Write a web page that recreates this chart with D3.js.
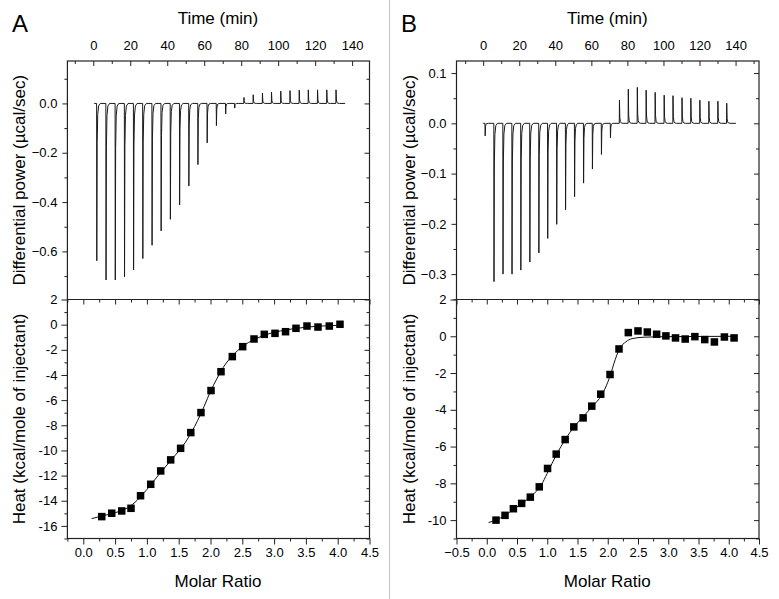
<!DOCTYPE html>
<html><head><meta charset="utf-8">
<script src="https://cdn.jsdelivr.net/npm/d3@7/dist/d3.min.js"></script>
<style>
body{margin:0;background:#fff;}
svg{display:block;font-family:"Liberation Sans",Arial,sans-serif;}
</style></head>
<body><svg id="c" width="779" height="599"></svg>
<script>
// ---------- DATA ----------
// Panel A thermogram: injection times (min) and peak differential power (µcal/sec)
const timesA = [1.8,6.8,11.8,16.8,21.7,26.7,31.7,36.6,41.6,46.6,51.6,56.5,61.5,66.5,71.5,76.4,81.4,86.4,91.4,96.3,101.3,106.3,111.3,116.2,121.2,126.2,131.2];
const peaksA = [-0.638,-0.716,-0.716,-0.703,-0.675,-0.629,-0.575,-0.517,-0.470,-0.412,-0.335,-0.248,-0.160,-0.090,-0.043,-0.019,0.024,0.035,0.042,0.046,0.050,0.052,0.054,0.055,0.055,0.055,0.055];
const runA = [0.5, 136.2];
// Panel A binding isotherm
const ratioA = [0.29,0.447,0.604,0.75,0.90,1.06,1.217,1.374,1.53,1.69,1.85,2.008,2.165,2.343,2.506,2.684,2.846,3.014,3.18,3.344,3.517,3.69,3.868,4.036];
const heatA = [-15.26,-14.99,-14.81,-14.6,-13.6,-12.69,-11.63,-10.75,-9.83,-8.58,-6.99,-5.24,-3.74,-2.54,-1.75,-1.14,-0.77,-0.69,-0.56,-0.29,-0.11,-0.19,-0.11,0.03];
const fitXA = [0.13,0.3,0.5,0.7,0.85,1.0,1.2,1.4,1.6,1.8,1.9,2.0,2.1,2.2,2.35,2.5,2.7,2.9,3.1,3.3,3.5,3.7,4.04];
const fitYA = [-15.42,-15.2,-14.95,-14.55,-13.95,-13.1,-11.85,-10.65,-9.4,-7.6,-6.5,-5.3,-4.3,-3.4,-2.45,-1.75,-1.15,-0.75,-0.5,-0.33,-0.2,-0.12,-0.05];

// Panel B thermogram
const timesB = [1.0,5.9,10.9,15.9,20.8,25.8,30.8,35.7,40.7,45.6,50.6,55.6,60.5,65.5,70.5,75.5,80.4,85.4,90.3,95.3,100.3,105.2,110.2,115.1,120.1,125.1,130.1,135.0];
const peaksB = [-0.025,-0.315,-0.300,-0.300,-0.292,-0.276,-0.258,-0.229,-0.201,-0.172,-0.146,-0.119,-0.091,-0.062,-0.029,0.046,0.068,0.0716,0.066,0.0616,0.056,0.055,0.051,0.050,0.046,0.044,0.044,0.040];
const runB = [0, 140.2];
// Panel B binding isotherm
const ratioB = [0.153,0.302,0.44,0.577,0.72,0.868,1.005,1.148,1.296,1.439,1.593,1.736,1.884,2.038,2.186,2.34,2.5,2.654,2.808,2.961,3.12,3.28,3.44,3.603,3.763,3.928,4.088];
const heatB = [-10.0,-9.74,-9.38,-9.09,-8.75,-8.19,-7.19,-6.41,-5.62,-4.93,-4.44,-3.80,-3.15,-2.08,-0.69,0.2,0.29,0.23,0.11,0.02,-0.09,-0.15,-0.02,-0.18,-0.31,-0.04,-0.09];
const fitXB = [0.03,0.15,0.3,0.45,0.6,0.75,0.9,1.0,1.15,1.3,1.45,1.6,1.75,1.9,2.0,2.05,2.1,2.2,2.3,2.4,2.6,3.0,4.1];
const fitYB = [-10.13,-10.0,-9.75,-9.4,-9.05,-8.65,-8.1,-7.45,-6.45,-5.6,-4.9,-4.35,-3.8,-3.2,-2.5,-2.05,-1.5,-0.65,-0.3,-0.13,-0.05,-0.02,0];

// Tick labels
const timeTicks = [0,20,40,60,80,100,120,140];
const timeMinor = [-10,10,30,50,70,90,110,130,150];
const powerTicksA = [-0.6,-0.4,-0.2,0.0];
const powerMinorA = [-0.7,-0.5,-0.3,-0.1,0.1];
const powerTicksB = [-0.3,-0.2,-0.1,0.0,0.1];
const powerMinorB = [-0.35,-0.25,-0.15,-0.05,0.05];
const heatTicksA = [-16,-14,-12,-10,-8,-6,-4,-2,0,2];
const heatMinorA = [-17,-15,-13,-11,-9,-7,-5,-3,-1,1];
const heatTicksB = [-10,-8,-6,-4,-2,0,2];
const heatMinorB = [-11,-9,-7,-5,-3,-1,1];
const ratioTicksA = [0,0.5,1,1.5,2,2.5,3,3.5,4,4.5];
const ratioMinorA = [-0.25,0.25,0.75,1.25,1.75,2.25,2.75,3.25,3.75,4.25];
const ratioTicksB = [-0.5,0,0.5,1,1.5,2,2.5,3,3.5,4,4.5];
const ratioMinorB = [-0.25,0.25,0.75,1.25,1.75,2.25,2.75,3.25,3.75,4.25];

// spike rendering shape (time offset, fraction of peak)
const spikeDt = [0,0.1,0.3,0.6,1.1,2.0];
const spikeFr = [0,1,0.25,0.07,0.015,0];

// ---------- DRAW ----------
const svg = d3.select("#c");
const yTop = 61, yMid = 299.5, yBot = 538.5;

const panels = [
  {label:"A", x0:67.4, x1:369.5, tDom:[-14,149.4], pDom:[-0.795,0.172], hDom:[-17,2], rDom:[-0.25,4.5],
   times:timesA, peaks:peaksA, run:runA, ratio:ratioA, heat:heatA, fitX:fitXA, fitY:fitYA,
   pT:powerTicksA, pM:powerMinorA, hT:heatTicksA, hM:heatMinorA, rT:ratioTicksA, rM:ratioMinorA, lx:12, tx:19},
  {label:"B", x0:456.5, x1:759, tDom:[-14.8,153], pDom:[-0.3505,0.124], hDom:[-11,2], rDom:[-0.5,4.5],
   times:timesB, peaks:peaksB, run:runB, ratio:ratioB, heat:heatB, fitX:fitXB, fitY:fitYB,
   pT:powerTicksB, pM:powerMinorB, hT:heatTicksB, hM:heatMinorB, rT:ratioTicksB, rM:ratioMinorB, lx:401, tx:409}
];

// separator
svg.append("line").attr("x1",389.5).attr("x2",389.5).attr("y1",0).attr("y2",599)
  .attr("stroke","#c8c8c8").attr("stroke-width",1.2);

const fmt1 = d3.format(".1f");
function styleAxis(g){
  g.select(".domain").remove();
  g.selectAll("line").attr("stroke","#222").attr("stroke-width",1);
  g.selectAll("text").attr("font-size",13).attr("fill","#000").attr("font-family","Liberation Sans, Arial, sans-serif");
}
function ax(gen, tx, ty, vals, fmt, size, pad){
  const a = gen.tickValues(vals).tickSize(size).tickPadding(pad);
  a.tickFormat(fmt || "");
  const g = svg.append("g").attr("transform",`translate(${tx},${ty})`).call(a);
  styleAxis(g);
  return g;
}

panels.forEach(p => {
  const t = d3.scaleLinear().domain(p.tDom).range([p.x0,p.x1]);
  const pw = d3.scaleLinear().domain(p.pDom).range([yMid,yTop]);
  const h = d3.scaleLinear().domain(p.hDom).range([yBot,yMid]);
  const r = d3.scaleLinear().domain(p.rDom).range([p.x0,p.x1]);

  // ---- top plot (thermogram) ----
  const pts = [[p.run[0],0]];
  p.times.forEach((ti,i)=>{
    spikeDt.forEach((dt,k)=>pts.push([ti+dt, p.peaks[i]*spikeFr[k]]));
  });
  pts.push([p.run[1],0]);
  svg.append("path").datum(pts)
    .attr("d", d3.line().x(d=>t(d[0])).y(d=>pw(d[1])))
    .attr("fill","none").attr("stroke","#1a1a1a").attr("stroke-width",1).attr("stroke-linejoin","round");

  // top axis (time) inward ticks
  ax(d3.axisTop(t), 0, yTop, timeTicks, d=>d, -5, 11);
  ax(d3.axisTop(t), 0, yTop, timeMinor.filter(v=>v>=p.tDom[0]&&v<=p.tDom[1]), null, -3, 0);
  // left power axis
  ax(d3.axisLeft(pw), p.x0, 0, p.pT, fmt1, 5, 5);
  ax(d3.axisLeft(pw), p.x0, 0, p.pM, null, 3, 0);
  // right mirror
  ax(d3.axisRight(pw), p.x1, 0, p.pT, null, -5, 0);
  ax(d3.axisRight(pw), p.x1, 0, p.pM, null, -3, 0);

  // ---- bottom plot (isotherm) ----
  const fit = p.fitX.map((x,i)=>[x,p.fitY[i]]);
  svg.append("path").datum(fit)
    .attr("d", d3.line().x(d=>r(d[0])).y(d=>h(d[1])).curve(d3.curveMonotoneX))
    .attr("fill","none").attr("stroke","#111").attr("stroke-width",1);
  const s = 7.5;
  svg.append("g").selectAll("rect").data(p.ratio).join("rect")
    .attr("x",(d)=>r(d)-s/2).attr("y",(d,i)=>h(p.heat[i])-s/2)
    .attr("width",s).attr("height",s).attr("fill","#000");

  // bottom axis (molar ratio) outward
  ax(d3.axisBottom(r), 0, yBot, p.rT, fmt1, 6, 3);
  ax(d3.axisBottom(r), 0, yBot, p.rM, null, 3, 0);
  // top mirror of isotherm (inward)
  ax(d3.axisBottom(r), 0, yMid, p.rT, null, 5, 0);
  ax(d3.axisBottom(r), 0, yMid, p.rM, null, 3, 0);
  // left heat axis
  ax(d3.axisLeft(h), p.x0, 0, p.hT, d=>d, 6, 4);
  ax(d3.axisLeft(h), p.x0, 0, p.hM, null, 3, 0);
  // right mirror
  ax(d3.axisRight(h), p.x1, 0, p.hT, null, -5, 0);
  ax(d3.axisRight(h), p.x1, 0, p.hM, null, -3, 0);

  // frames
  svg.append("rect").attr("x",p.x0).attr("y",yTop).attr("width",p.x1-p.x0).attr("height",yBot-yTop)
    .attr("fill","none").attr("stroke","#222").attr("stroke-width",1.2);
  svg.append("line").attr("x1",p.x0).attr("x2",p.x1).attr("y1",yMid).attr("y2",yMid)
    .attr("stroke","#222").attr("stroke-width",1.2);

  // titles
  const cx = (p.x0+p.x1)/2 - 0.5;
  svg.append("text").attr("x",cx).attr("y",24).attr("text-anchor","middle")
    .attr("font-size",17).attr("fill","#000").text("Time (min)");
  svg.append("text").attr("x",cx).attr("y",587).attr("text-anchor","middle")
    .attr("font-size",17).attr("fill","#000").text("Molar Ratio");
  svg.append("text").attr("transform",`translate(${p.tx+6},${(yTop+yMid)/2})rotate(-90)`)
    .attr("text-anchor","middle").attr("font-size",17).attr("fill","#000")
    .text("Differential power (µcal/sec)");
  svg.append("text").attr("transform",`translate(${p.tx+6},${(yMid+yBot)/2})rotate(-90)`)
    .attr("text-anchor","middle").attr("font-size",17).attr("fill","#000")
    .text("Heat (kcal/mole of injectant)");
  svg.append("text").attr("x",p.lx).attr("y",32).attr("font-size",24).attr("fill","#000").text(p.label);
});
</script></body></html>
